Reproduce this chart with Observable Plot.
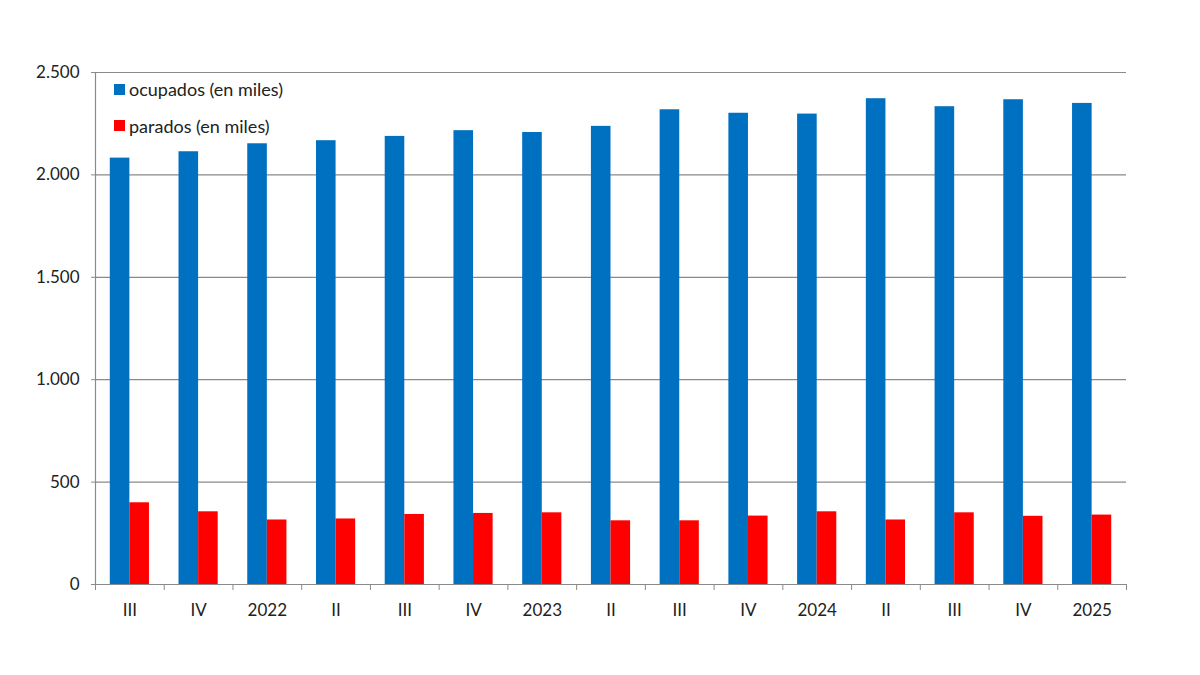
<!DOCTYPE html>
<html>
<head>
<meta charset="utf-8">
<script src="https://cdn.jsdelivr.net/npm/d3@7"></script>
<script src="https://cdn.jsdelivr.net/npm/@observablehq/plot@0.6"></script>
<style>
  html, body { margin: 0; padding: 0; background: #fff; }
  #wrap { position: relative; width: 1200px; height: 675px; font-family: Lato, "Open Sans", sans-serif; }
  #legend { position: absolute; left: 114px; top: 76px; font-size: 18px; color: #222; }
  .row { display: flex; align-items: center; height: 26px; margin-bottom: 10.5px; }
  .sw { width: 11px; height: 11px; margin-right: 4px; }
</style>
</head>
<body>
<div id="wrap"><div id="legend"></div></div>
<script>
const categories = ["III","IV","2022","II","III","IV","2023","II","III","IV","2024","II","III","IV","2025"];
const ocupados = [2082,2113,2152,2167,2188,2216,2207,2237,2318,2301,2297,2372,2333,2367,2349];
const parados  = [399,355,315,320,342,347,350,311,311,334,355,315,350,333,339];
const yTicks = [0,500,1000,1500,2000,2500];
const seriesNames = ["ocupados (en miles)", "parados (en miles)"];
const seriesColors = ["#0070C0", "#FF0000"];

const W = 1200, H = 675, mL = 95, mR = 74, mT = 72, mB = 91;
const n = categories.length;
const pInner = 0.43, pOuter = pInner / 2;
const step = (W - mL - mR) / n;
const bw = step * (1 - pInner);
const idx = d3.range(n);
const fmt = d3.formatLocale({decimal: ",", thousands: ".", grouping: [3], currency: ["", "€"]}).format(",");
const gray = "#8a8a8a";

const chart = Plot.plot({
  width: W, height: H,
  marginLeft: mL, marginRight: mR, marginTop: mT, marginBottom: mB,
  style: {fontFamily: "Lato, 'Open Sans', sans-serif", fontSize: "17px", color: "#222", background: "white"},
  x: {domain: idx, paddingInner: pInner, paddingOuter: pOuter, round: false, axis: null},
  y: {domain: [0, 2500], axis: null},
  marks: [
    Plot.gridY(yTicks, {stroke: gray, strokeOpacity: 1, strokeWidth: 1.2}),
    Plot.barY(ocupados, {x: (d, i) => i, y: d => d, fill: seriesColors[0], insetRight: bw / 2}),
    Plot.barY(parados, {x: (d, i) => i, y: d => d, fill: seriesColors[1], insetLeft: bw / 2}),
    Plot.ruleY([0], {stroke: gray, strokeWidth: 1.2}),
    Plot.ruleX([0], {dx: -step / 2, y1: 0, y2: 2500, stroke: gray, strokeWidth: 1.2}),
    Plot.axisY(yTicks, {tickSize: 4, tickPadding: 12, tickFormat: fmt, label: null, stroke: gray, fill: "#222"}),
    Plot.axisX(idx, {tickSize: 6, tickFormat: () => "", dx: -step / 2, label: null, stroke: gray}),
    Plot.axisX([n - 1], {tickSize: 6, tickFormat: () => "", dx: step / 2, label: null, stroke: gray}),
    Plot.axisX(idx, {tickSize: 0, tickPadding: 19, tickFormat: i => categories[i], label: null, fill: "#222"})
  ]
});
document.getElementById("wrap").prepend(chart);

const legend = document.getElementById("legend");
seriesNames.forEach((name, i) => {
  const row = document.createElement("div");
  row.className = "row";
  const sw = document.createElement("div");
  sw.className = "sw";
  sw.style.background = seriesColors[i];
  const t = document.createElement("span");
  t.textContent = name;
  row.append(sw, t);
  legend.append(row);
});
</script>
</body>
</html>
